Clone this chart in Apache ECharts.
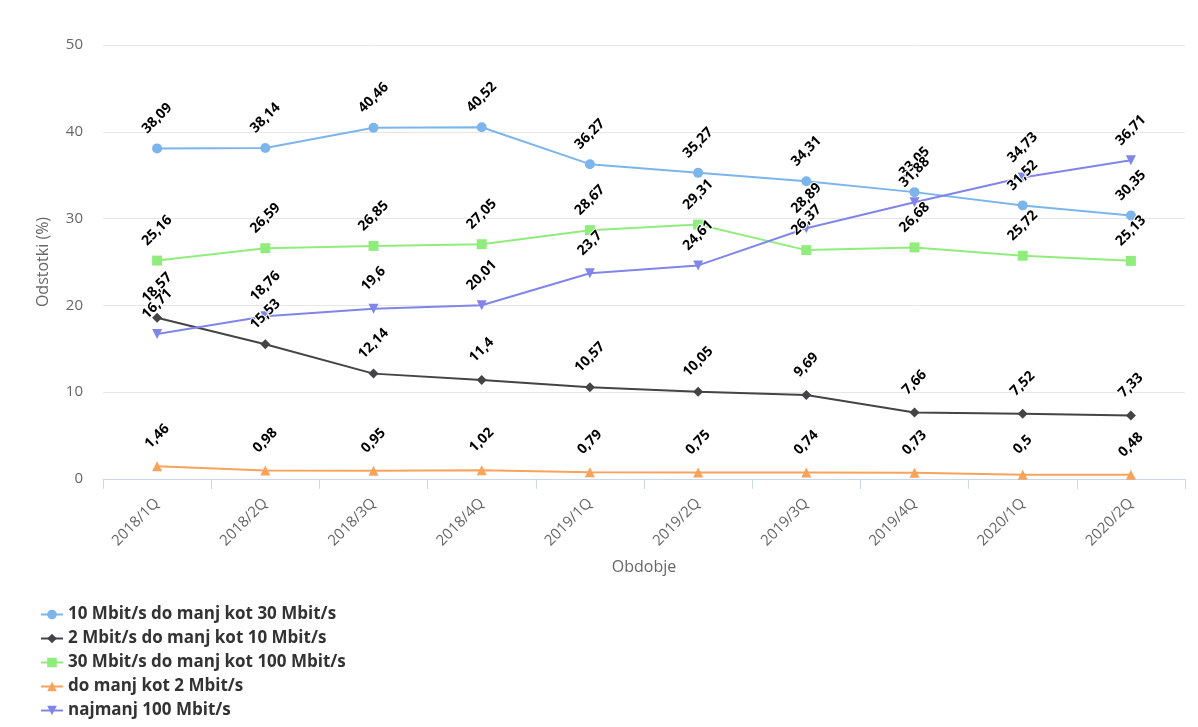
<!DOCTYPE html>
<html><head><meta charset="utf-8">
<script src="https://cdn.jsdelivr.net/npm/echarts@6/dist/echarts.min.js"></script>
<style>html,body{margin:0;padding:0;background:#fff}#c{width:1198px;height:727px}</style>
</head><body><div id="c"></div>
<script>
var categories = ['2018/1Q','2018/2Q','2018/3Q','2018/4Q','2019/1Q','2019/2Q','2019/3Q','2019/4Q','2020/1Q','2020/2Q'];
var yTicks = [0,10,20,30,40,50];
var s10to30 = [38.09,38.14,40.46,40.52,36.27,35.27,34.31,33.05,31.52,30.35];
var s2to10 = [18.57,15.53,12.14,11.4,10.57,10.05,9.69,7.66,7.52,7.33];
var s30to100 = [25.16,26.59,26.85,27.05,28.67,29.31,26.37,26.68,25.72,25.13];
var sUnder2 = [1.46,0.98,0.95,1.02,0.79,0.75,0.74,0.73,0.5,0.48];
var sOver100 = [16.71,18.76,19.6,20.01,23.7,24.61,28.89,31.88,34.73,36.71];
var names = ['10 Mbit/s do manj kot 30 Mbit/s','2 Mbit/s do manj kot 10 Mbit/s','30 Mbit/s do manj kot 100 Mbit/s','do manj kot 2 Mbit/s','najmanj 100 Mbit/s'];
var colors = ['#7cb5ec','#434348','#90ed7d','#f7a35c','#8085e9'];
var FONT = '"Open Sans", "DejaVu Sans", sans-serif';
function mk(i, data, symbol, size, rot){
  return {
    name: names[i], type:'line', data:data, symbol:symbol, symbolSize:size, symbolRotate:rot||0,
    itemStyle:{color:colors[i]}, lineStyle:{color:colors[i], width:2},
    label:{show:true, position:'top', distance:25, rotate:45, align:'center', verticalAlign:'middle',
      fontFamily:FONT, fontSize:14, fontWeight:'bold', color:'#000', textBorderColor:'#fff', textBorderWidth:2,
      formatter:function(p){return String(p.value).replace('.',',');}},
    emphasis:{disabled:true}
  };
}
var chart = echarts.init(document.getElementById('c'));
chart.setOption({
  animation:false,
  grid:{left:103, right:13, top:45, bottom:248},
  xAxis:{type:'category', data:categories, boundaryGap:true,
    name:'Obdobje', nameLocation:'middle', nameGap:80,
    nameTextStyle:{color:'#666', fontSize:16, fontFamily:FONT},
    axisLine:{lineStyle:{color:'#ccd6eb'}},
    axisTick:{show:true, length:10, lineStyle:{color:'#ccd6eb'}},
    axisLabel:{rotate:45, color:'#666', fontSize:15, fontFamily:FONT, margin:22},
    splitLine:{show:false}},
  yAxis:{type:'value', min:0, max:50, interval:10,
    name:'Odstotki (%)', nameLocation:'middle', nameGap:52,
    nameTextStyle:{color:'#666', fontSize:16, fontFamily:FONT},
    axisLine:{show:false}, axisTick:{show:false},
    axisLabel:{color:'#666', fontSize:15, fontFamily:FONT, margin:20,
      formatter:function(v){return yTicks.indexOf(v)>=0?String(v):'';}},
    splitLine:{lineStyle:{color:'#e6e6e6'}}},
  legend:{orient:'vertical', left:40, top:606, height:121, padding:0, itemGap:7, itemWidth:22, itemHeight:12,
    textStyle:{color:'#333', fontSize:17, lineHeight:17, fontWeight:'bold', fontFamily:FONT}},
  series:[
    mk(0, s10to30, 'circle', 10),
    mk(1, s2to10, 'diamond', 10),
    mk(2, s30to100, 'rect', 10),
    mk(3, sUnder2, 'triangle', 10),
    mk(4, sOver100, 'triangle', 10, 180)
  ]
});
</script></body></html>
